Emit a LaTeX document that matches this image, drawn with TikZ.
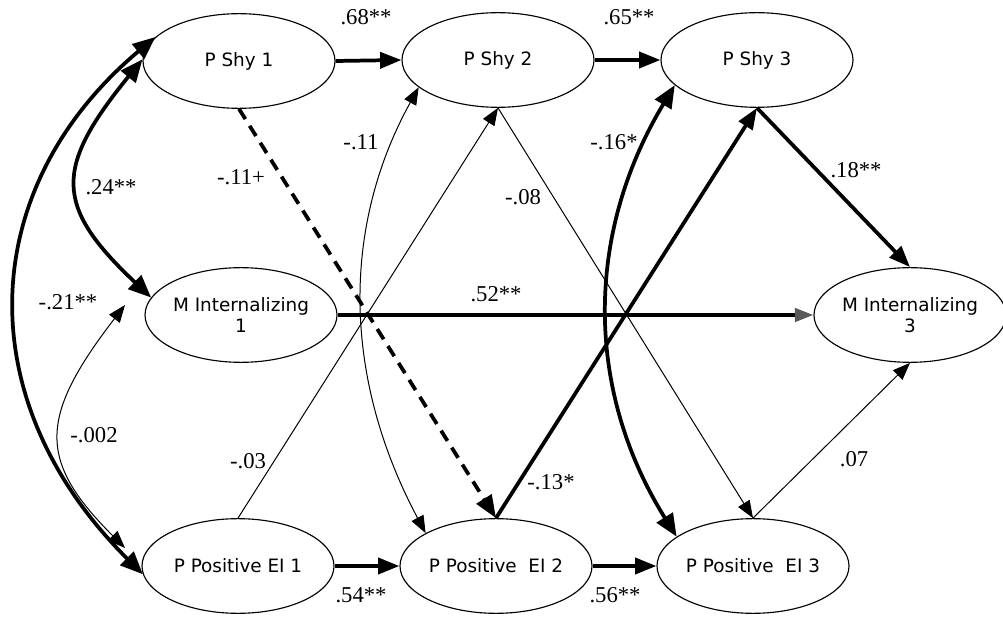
\documentclass[tikz,border=0pt]{standalone}
\usepackage{fontspec}
\setmainfont{Liberation Serif}
\newfontfamily\nodefont{DejaVu Sans}
\usetikzlibrary{arrows.meta,shapes.geometric}
\begin{document}
\begin{tikzpicture}[x=0.75pt,y=-0.75pt,
  var/.style={ellipse,draw,line width=0.85pt,minimum width=144pt,minimum height=71pt,
    inner sep=-6pt,font=\nodefont\fontsize{13.8}{16}\selectfont,align=center},
  lab/.style={font=\fontsize{17}{19}\selectfont,inner sep=0pt},
  thickarr/.style={line width=2.8pt,-{Triangle[length=16pt,width=12pt]}},
  thinarr/.style={line width=0.75pt,-{Triangle[length=13pt,width=10pt]}},
  thickdbl/.style={line width=2.8pt,{Triangle[length=17pt,width=14pt]}-{Triangle[length=17pt,width=14pt]}},
  thindbl/.style={line width=0.75pt,{Triangle[length=13pt,width=10pt]}-{Triangle[length=13pt,width=10pt]}},
  dasharr/.style={line width=2.8pt,dash pattern=on 9pt off 6pt,-{Triangle[length=17pt,width=13pt]}},
  greyarr/.style={line width=2.8pt,-{Triangle[length=14pt,width=10pt,color=black!65]}}
]
\useasboundingbox (0,0) rectangle (1003,620);

% nodes
\node[var] (PS1) at (239,61) {P Shy 1};
\node[var] (PS2) at (498,60) {P Shy 2};
\node[var] (PS3) at (757,60) {P Shy 3};
\node[var] (MI1) at (241,315) {M Internalizing\\1};
\node[var] (MI3) at (910,315) {M Internalizing\\3};
\node[var] (PE1) at (238,566) {P Positive EI 1};
\node[var] (PE2) at (496,566) {P Positive\ \ EI 2};
\node[var] (PE3) at (753,566) {P Positive\ \ EI 3};

\coordinate (c1) at (125,305);
\coordinate (c2) at (125,548);

% straight paths
\draw[thickarr] (PS1.east) -- (PS2.west);
\draw[thickarr] (PS2.east) -- (PS3.west);
\draw[thickarr] (PE1.east) -- (PE2.west);
\draw[thickarr] (PE2.east) -- (PE3.west);
\draw[greyarr] (MI1.east) -- (MI3.west);
\draw[dasharr] (PS1.south) -- (PE2.north);
\draw[thinarr] (PE1.north) -- (PS2.south);
\draw[thinarr] (PS2.south) -- (PE3.north);
\draw[thickarr] (PE2.north) -- (PS3.south);
\draw[thickarr] (PS3.south) -- (MI3.north);
\draw[thinarr] (PE3.north) -- (MI3.south);

% curved covariances
\draw[thickdbl] (PS1.164) .. controls (-23,187) and (-33,399) .. (PE1.185);
\draw[thickdbl] (PS1.179) .. controls (54,168) and (54,206) .. (MI1.169);
\draw[thindbl] (c1) .. controls (38,418) and (38,461) .. (c2);
\draw[thindbl] (PS2.199) .. controls (342,226) and (342,376) .. (PE2.155);
\draw[thickdbl] (PS3.197) .. controls (585,234) and (585,390) .. (PE3.159);

% labels
\node[lab] (l1) at (366,17) {.68**};
\node[lab] (l2) at (629,17) {.65**};
\node[lab] (l3) at (241,177) {-.11+};
\node[lab] (l4) at (111,187) {.24**};
\node[lab] (l5) at (68,302) {-.21**};
\node[lab] (l6) at (361,142) {-.11};
\node[lab] (l7) at (614,142) {-.16*};
\node[lab] (l8) at (523,197) {-.08};
\node[lab] (l9) at (496,294) {.52**};
\node[lab] (l10) at (856,170) {.18**};
\node[lab] (l11) at (94,435) {-.002};
\node[lab] (l12) at (248,461) {-.03};
\node[lab] (l13) at (551,482) {-.13*};
\node[lab] (l14) at (361,595) {.54**};
\node[lab] (l15) at (615,595) {.56**};
\node[lab] (l16) at (854,459) {.07};
\end{tikzpicture}
\end{document}
